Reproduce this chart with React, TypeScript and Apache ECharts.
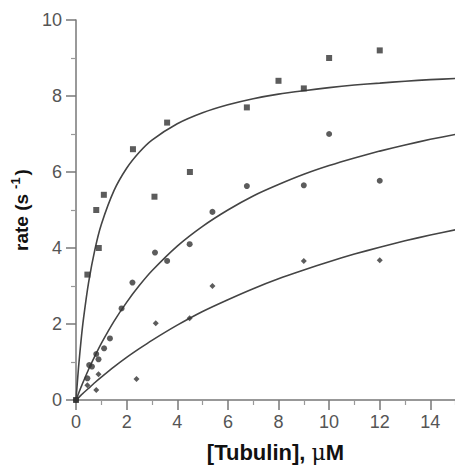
import React, { useEffect, useRef } from "react";
import * as echarts from "echarts";

const squarePoints = [
  [0, 0], [0.45, 3.3], [0.8, 5.0], [0.9, 4.0], [1.1, 5.4], [2.25, 6.6], [3.1, 5.35],
  [3.6, 7.3], [4.5, 6.0], [6.75, 7.7], [8, 8.4], [9, 8.2], [10, 9.0], [12, 9.2],
];
const circlePoints = [
  [0, 0], [0.45, 0.57], [0.52, 0.92], [0.63, 0.88], [0.8, 1.21], [0.89, 1.07], [1.11, 1.36],
  [1.34, 1.62], [1.8, 2.41], [2.23, 3.09], [3.12, 3.88], [3.6, 3.66], [4.49, 4.1],
  [5.39, 4.95], [6.75, 5.63], [9, 5.65], [10, 7.0], [12, 5.77],
];
const diamondPoints = [
  [0, 0], [0.45, 0.39], [0.8, 0.26], [0.89, 0.68], [2.39, 0.55], [3.15, 2.02],
  [4.49, 2.15], [5.39, 3.0], [9, 3.66], [12, 3.68],
];

const curveX = [0, 0.1, 0.2, 0.3, 0.5, 0.75, 1, 1.5, 2, 2.5, 3, 4, 5, 6, 7, 8, 9, 10, 11, 12, 13, 14, 15];
const topCurve = [0, 0.86, 1.57, 2.16, 3.1, 3.97, 4.62, 5.51, 6.1, 6.52, 6.84, 7.27, 7.56, 7.77, 7.93, 8.05, 8.14, 8.22, 8.29, 8.34, 8.39, 8.43, 8.46];
const midCurve = [0, 0.17, 0.34, 0.5, 0.81, 1.16, 1.49, 2.07, 2.57, 3.01, 3.4, 4.05, 4.57, 5.0, 5.37, 5.67, 5.94, 6.17, 6.37, 6.55, 6.71, 6.86, 6.99];
const lowCurve = [0, 0.06, 0.13, 0.19, 0.31, 0.46, 0.6, 0.87, 1.12, 1.35, 1.57, 1.97, 2.33, 2.64, 2.93, 3.19, 3.42, 3.64, 3.84, 4.02, 4.19, 4.34, 4.48];

const xTicks = [0, 2, 4, 6, 8, 10, 12, 14];
const yTicks = [0, 2, 4, 6, 8, 10];

export default function App() {
  const ref = useRef<HTMLDivElement>(null);
  useEffect(() => {
    if (!ref.current) return;
    const chart = echarts.init(ref.current, null, { renderer: "svg" });
    const lineStyle = { color: "#444", width: 1.6 };
    const curve = (vals: number[]) => ({
      type: "line",
      data: curveX.map((x, i) => [x, vals[i]]),
      showSymbol: false,
      symbol: "none",
      smooth: 0.2,
      lineStyle,
      z: 1,
    });
    const axisLine = { show: true, lineStyle: { color: "#777", width: 1.5 } };
    const labelStyle = { color: "#555", fontSize: 18, fontFamily: "Liberation Sans, Arial, sans-serif" };
    const font = "Liberation Sans, Arial, sans-serif";
    chart.setOption({
      animation: false,
      backgroundColor: "#fff",
      grid: { left: 76, width: 405, top: 20, bottom: 71, containLabel: false, outerBoundsMode: "none" },
      xAxis: {
        type: "value",
        min: 0,
        max: 16,
        interval: 2,
        axisLine,
        axisTick: { show: true, inside: false, length: 10, lineStyle: { color: "#777", width: 1.5 } },
        minorTick: { show: true, splitNumber: 2, length: 5, lineStyle: { color: "#999", width: 1.2 } },
        splitLine: { show: false },
        axisLabel: {
          ...labelStyle,
          margin: 13,
          formatter: (v: number) => (xTicks.includes(v) ? String(v) : ""),
        },
        name: "{b|[Tubulin], }{m|μ}{b|M}",
        nameLocation: "middle",
        nameGap: 41,
        nameTextStyle: {
          padding: [0, 6, 0, 0],
          rich: {
            b: { fontSize: 22, fontWeight: "bold", color: "#111", fontFamily: font },
            m: { fontSize: 22, fontWeight: "normal", color: "#111", fontFamily: "DejaVu Serif, serif" },
          },
        },
      },
      yAxis: {
        type: "value",
        min: 0,
        max: 10,
        interval: 2,
        axisLine,
        axisTick: { show: true, inside: false, length: 10, lineStyle: { color: "#777", width: 1.5 } },
        minorTick: { show: true, splitNumber: 2, length: 5, lineStyle: { color: "#999", width: 1.2 } },
        splitLine: { show: false },
        axisLabel: {
          ...labelStyle,
          margin: 14,
          formatter: (v: number) => (yTicks.includes(v) ? String(v) : ""),
        },
        name: "{b|rate (s}{s|-1}{b|)}",
        nameLocation: "middle",
        nameGap: 41,
        nameTextStyle: {
          rich: {
            b: { fontSize: 19, fontWeight: "bold", color: "#111", fontFamily: font },
            s: { fontSize: 13, fontWeight: "bold", color: "#111", verticalAlign: "top", padding: [0, 2, 13, 5], fontFamily: font },
          },
        },
      },
      series: [
        curve(topCurve),
        curve(midCurve),
        curve(lowCurve),
        {
          type: "scatter",
          data: squarePoints,
          symbol: "rect",
          symbolSize: 6,
          itemStyle: { color: "#333" },
          z: 3,
        },
        {
          type: "scatter",
          data: circlePoints,
          symbol: "circle",
          symbolSize: 6,
          itemStyle: { color: "#333" },
          z: 3,
        },
        {
          type: "scatter",
          data: diamondPoints,
          symbol: "diamond",
          symbolSize: 6,
          itemStyle: { color: "#333" },
          z: 3,
        },
      ],
    });
    return () => chart.dispose();
  }, []);
  return (
    <div
      ref={ref}
      style={{ position: "fixed", left: 0, top: 0, width: 455, height: 471, background: "#fff" }}
    />
  );
}
